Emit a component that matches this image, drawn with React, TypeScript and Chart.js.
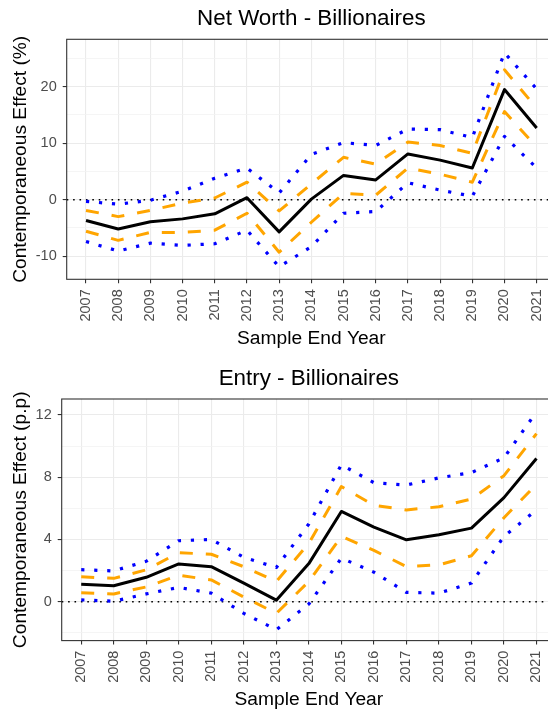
import React, { useEffect, useRef } from "react";
import { Chart, registerables } from "chart.js";

Chart.register(...registerables);

// ---------- data ----------
const years = [2007, 2008, 2009, 2010, 2011, 2012, 2013, 2014, 2015, 2016, 2017, 2018, 2019, 2020, 2021];
const yearLabels = years.map(String);

// Net Worth - Billionaires (%)
const nwEst = [-3.7, -5.2, -3.9, -3.4, -2.5, 0.35, -5.7, 0.1, 4.3, 3.5, 8.1, 7.0, 5.6, 19.5, 12.7];
const nwUp90 = [-1.9, -3.0, -1.9, -0.6, 0.3, 3.1, -2.0, 2.8, 7.5, 6.3, 10.2, 9.6, 8.2, 23.0, 16.2];
const nwLo90 = [-5.6, -7.2, -5.8, -5.8, -5.4, -2.4, -9.3, -4.0, 1.1, 0.8, 5.6, 4.5, 3.1, 15.6, 9.3];
const nwUp95 = [-0.3, -0.8, -0.1, 1.5, 3.8, 5.6, 1.2, 8.0, 10.1, 9.6, 12.5, 12.4, 11.0, 26.0, 19.6];
const nwLo95 = [-7.4, -9.1, -7.7, -8.1, -7.8, -5.4, -11.9, -8.3, -2.4, -2.1, 3.0, 1.7, 0.6, 11.2, 5.6];
const nwMajorTicks = [-10, 0, 10, 20];
const nwMinorTicks = [-5, 5, 15, 25];

// Entry - Billionaires (p.p)
const enEst = [1.12, 1.03, 1.57, 2.43, 2.25, 1.2, 0.1, 2.45, 5.8, 4.8, 3.98, 4.3, 4.73, 6.69, 9.2];
const enUp90 = [1.6, 1.5, 2.05, 3.15, 3.05, 2.25, 1.3, 3.75, 7.4, 6.2, 5.9, 6.1, 6.6, 8.1, 10.8];
const enLo90 = [0.58, 0.5, 0.95, 1.7, 1.4, 0.3, -0.75, 1.3, 4.2, 3.3, 2.26, 2.37, 2.95, 5.4, 7.55];
const enUp95 = [2.06, 1.98, 2.6, 3.92, 4.0, 2.85, 2.2, 5.0, 8.8, 7.65, 7.5, 7.96, 8.3, 9.25, 12.2];
const enLo95 = [0.12, 0.03, 0.5, 0.92, 0.55, -0.75, -1.8, -0.15, 2.8, 1.9, 0.6, 0.55, 1.2, 4.2, 5.9];
const enMajorTicks = [0, 4, 8, 12];
const enMinorTicks = [-2, 2, 6, 10];

// ---------- styling ----------
const FONT = "'Liberation Sans', Arial, 'DejaVu Sans', sans-serif";
const CANVAS_W = 565;

type Area = { left: number; top: number; right: number; bottom: number };

type PanelProps = {
  title: string;
  yTitle: string;
  est: number[];
  up90: number[];
  lo90: number[];
  up95: number[];
  lo95: number[];
  yMin: number;
  yMax: number;
  major: number[];
  minor: number[];
  height: number;
  area: Area;
  titleBaseline: number;
};

function Panel(props: PanelProps) {
  const ref = useRef<HTMLCanvasElement | null>(null);

  useEffect(() => {
    const canvas = ref.current;
    if (!canvas) return;
    const { title, yTitle, est, up90, lo90, up95, lo95, yMin, yMax, major, minor, height, area, titleBaseline } = props;

    const mk = (vals: number[], color: string, width: number, dash: number[]) => ({
      data: years.map((x, i) => ({ x, y: vals[i] })),
      borderColor: color,
      backgroundColor: color,
      borderWidth: width,
      borderDash: dash,
      borderCapStyle: "butt" as const,
      borderJoinStyle: "round" as const,
      pointRadius: 0,
      pointHoverRadius: 0,
      fill: false,
      tension: 0,
    });

    const allY = [...major, ...minor].sort((a, b) => a - b);

    const decor = {
      id: "decor",
      beforeDatasetsDraw(chart: any) {
        const { ctx, chartArea, scales } = chart;
        const y0 = scales.y.getPixelForValue(0);
        ctx.save();
        ctx.strokeStyle = "#000000";
        ctx.lineWidth = 1.6;
        ctx.setLineDash([1.6, 4.8]);
        ctx.beginPath();
        ctx.moveTo(chartArea.left, y0);
        ctx.lineTo(chartArea.right, y0);
        ctx.stroke();
        ctx.restore();
      },
      afterDraw(chart: any) {
        const { ctx, chartArea } = chart;
        ctx.save();
        // panel border
        ctx.strokeStyle = "#333333";
        ctx.lineWidth = 1.1;
        ctx.setLineDash([]);
        ctx.strokeRect(chartArea.left, chartArea.top, chartArea.right - chartArea.left, chartArea.bottom - chartArea.top);
        const cx = (chartArea.left + chartArea.right) / 2;
        const cy = (chartArea.top + chartArea.bottom) / 2;
        ctx.fillStyle = "#000000";
        ctx.textAlign = "center";
        ctx.textBaseline = "alphabetic";
        // title
        ctx.font = `22.4px ${FONT}`;
        ctx.fillText(title, cx, titleBaseline);
        // x title
        ctx.font = `19.2px ${FONT}`;
        ctx.fillText("Sample End Year", cx, chartArea.bottom + 64.5);
        // y title
        ctx.translate(26, cy);
        ctx.rotate(-Math.PI / 2);
        ctx.fillText(yTitle, 0, 0);
        ctx.restore();
      },
    };

    const chart = new Chart(canvas, {
      type: "line",
      data: {
        datasets: [
          mk(est, "#000000", 3, []),
          mk(up90, "#FFA500", 3, [13, 13]),
          mk(lo90, "#FFA500", 3, [13, 13]),
          mk(up95, "#0000FF", 3.2, [3.2, 9.8]),
          mk(lo95, "#0000FF", 3.2, [3.2, 9.8]),
        ],
      },
      options: {
        animation: false,
        responsive: false,
        maintainAspectRatio: false,
        devicePixelRatio: 1,
        events: [],
        layout: { padding: { top: area.top, left: 0, right: CANVAS_W - area.right, bottom: 0 } },
        plugins: {
          legend: { display: false },
          tooltip: { enabled: false },
          title: { display: false },
        },
        scales: {
          x: {
            type: "linear",
            min: years[0] - 0.6,
            max: years[years.length - 1] + 0.6,
            afterBuildTicks: (s: any) => {
              s.ticks = years.map((v) => ({ value: v }));
            },
            afterFit: (s: any) => {
              s.height = height - area.bottom;
            },
            border: { display: false },
            grid: {
              color: "#EBEBEB",
              lineWidth: 1.1,
              tickColor: "#333333",
              tickLength: 4,
              drawOnChartArea: true,
              drawTicks: true,
            },
            ticks: {
              autoSkip: false,
              maxRotation: 90,
              minRotation: 90,
              padding: 6,
              color: "#4D4D4D",
              font: { family: FONT, size: 14.5 },
              callback: (v: any) => {
                const i = years.indexOf(Number(v));
                return i >= 0 ? yearLabels[i] : "";
              },
            },
          },
          y: {
            type: "linear",
            min: yMin,
            max: yMax,
            afterBuildTicks: (s: any) => {
              s.ticks = allY.map((v) => ({ value: v }));
            },
            afterFit: (s: any) => {
              s.width = area.left;
            },
            border: { display: false },
            grid: {
              color: (c: any) => (c.tick && major.includes(c.tick.value) ? "#EBEBEB" : "#F2F2F2"),
              lineWidth: (c: any) => (c.tick && major.includes(c.tick.value) ? 1.1 : 0.8),
              tickColor: (c: any) => (c.tick && major.includes(c.tick.value) ? "#333333" : "rgba(0,0,0,0)"),
              tickLength: 4,
              drawTicks: true,
            },
            ticks: {
              autoSkip: false,
              padding: 6,
              color: "#4D4D4D",
              font: { family: FONT, size: 14.5 },
              callback: (v: any) => (major.includes(Number(v)) ? String(v) : ""),
            },
          },
        },
      },
      plugins: [decor],
    } as any);

    return () => {
      chart.destroy();
    };
  }, []);

  return (
    <canvas
      ref={ref}
      width={CANVAS_W}
      height={props.height}
      style={{ display: "block", width: CANVAS_W, height: props.height }}
    />
  );
}

export default function App() {
  return (
    <div
      style={{
        position: "absolute",
        left: 0,
        top: 0,
        width: 548,
        height: 711,
        overflow: "hidden",
        background: "#ffffff",
      }}
    >
      <Panel
        title="Net Worth - Billionaires"
        yTitle="Contemporaneous Effect (%)"
        est={nwEst}
        up90={nwUp90}
        lo90={nwLo90}
        up95={nwUp95}
        lo95={nwLo95}
        yMin={-14.1}
        yMax={28.4}
        major={nwMajorTicks}
        minor={nwMinorTicks}
        height={355}
        area={{ left: 66.7, top: 39.3, right: 556, bottom: 279.3 }}
        titleBaseline={25}
      />
      <Panel
        title="Entry - Billionaires"
        yTitle="Contemporaneous Effect (p.p)"
        est={enEst}
        up90={enUp90}
        lo90={enLo90}
        up95={enUp95}
        lo95={enLo95}
        yMin={-2.5}
        yMax={13.03}
        major={enMajorTicks}
        minor={enMinorTicks}
        height={356}
        area={{ left: 61.7, top: 44, right: 556, bottom: 285.6 }}
        titleBaseline={29.5}
      />
    </div>
  );
}
